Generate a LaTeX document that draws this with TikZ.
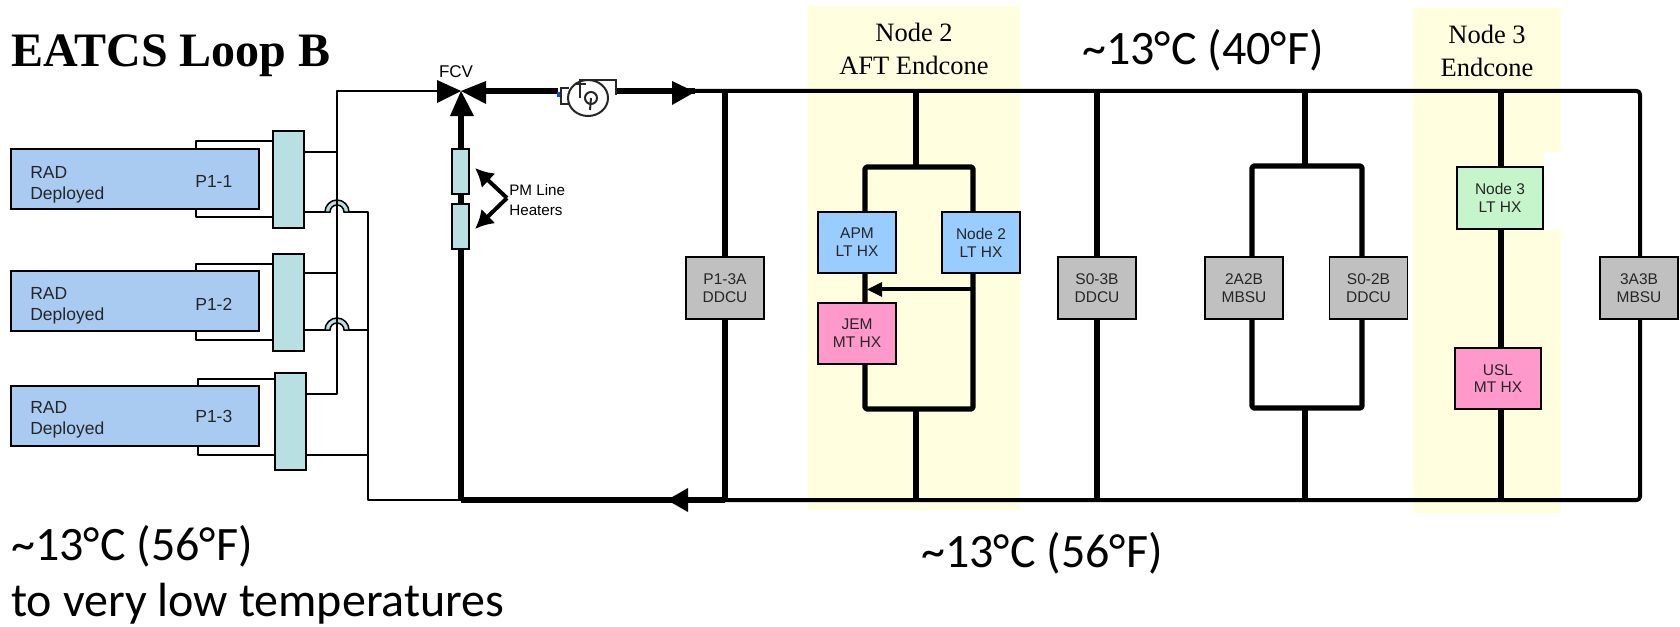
\documentclass[tikz,border=0pt]{standalone}
\usetikzlibrary{arrows.meta}
\usepackage{fontspec}
\setmainfont{Liberation Serif}
\newfontfamily\arialf{Liberation Sans}
\newfontfamily\calf{Carlito}
\def\u{0.6pt}
\newcommand{\fpx}[1]{\fontsize{\fpeval{#1*0.6}pt}{\fpeval{#1*0.6*1.15}pt}\selectfont}
\definecolor{radblue}{HTML}{A9CBF2}
\definecolor{teal1}{HTML}{B8DFE2}
\definecolor{hxblue}{HTML}{99CCFF}
\definecolor{hxpink}{HTML}{FF99CC}
\definecolor{hxgreen}{HTML}{C6F5CC}
\definecolor{ggrey}{HTML}{C0C0C0}
\definecolor{yel}{HTML}{FFFFE0}
\tikzset{
  x=0.6pt,y=-0.6pt,
  bx/.style={draw=black,line width=0.96pt,inner sep=0,outer sep=0,align=center,font=\arialf\fpx{15.5},text=black!85},
  rad/.style={bx,fill=radblue,minimum width=248*\u,minimum height=60*\u},
  mani/.style={bx,fill=teal1,minimum width=31*\u,minimum height=97*\u},
  heater/.style={bx,fill=teal1,minimum width=17*\u,minimum height=45*\u},
  unit/.style={bx,fill=ggrey,minimum width=78*\u,minimum height=62*\u},
  bluehx/.style={bx,fill=hxblue,minimum width=78*\u,minimum height=61*\u},
  pinkhx/.style={bx,fill=hxpink,minimum width=78*\u,minimum height=61*\u},
  greenhx/.style={bx,fill=hxgreen,minimum width=86*\u,minimum height=62*\u},
  thin1/.style={line width=1.1pt,line join=round},
  med/.style={line width=2.4pt,line join=round},
  thick1/.style={line width=3.1pt,line join=round},
  tri/.style={fill=black,draw=none},
  zone/.style={fill=yel,draw=none},
  serifl/.style={font=\fpx{26.5},align=center,inner sep=0},
  callab/.style={font=\calf\fpx{48},anchor=base west,inner sep=0},
  smalll/.style={font=\arialf\fpx{17.5},text=black!85,inner sep=0,align=left},
  pumpline/.style={line width=1.2pt,black!85},
}
\begin{document}
\begin{tikzpicture}
\useasboundingbox (0,0) rectangle (1680,626);
% zones
\fill[zone] (808,6) rectangle (1020,510);
\fill[zone] (1413,8) rectangle (1561,513);
\fill[white] (1544,152) rectangle (1562,230);
% bus coordinates
\coordinate (fcv) at (461,91);
\coordinate (tr) at (1640,91);
\coordinate (br) at (1640,500);
\coordinate (bl) at (461,500);
\coordinate (pin) at (368,500);
% thin radiator plumbing nodes
\node[rad] (r1) at (135,179) {};
\node[rad] (r2) at (135,301) {};
\node[rad] (r3) at (135,416) {};
\node[mani] (m1) at (288.5,179.5) {};
\node[mani] (m2) at (288.5,302.5) {};
\node[mani] (m3) at (290.5,421.5) {};
\node[smalll,anchor=base west] (t1a) at (30,178) {RAD};
\node[smalll,anchor=base west] (t1b) at (30,199) {Deployed};
\node[smalll,anchor=base west] (t2a) at (30,299) {RAD};
\node[smalll,anchor=base west] (t2b) at (30,320) {Deployed};
\node[smalll,anchor=base west] (t3a) at (30,413) {RAD};
\node[smalll,anchor=base west] (t3b) at (30,434) {Deployed};
\node[smalll,anchor=base west] (p1) at (195,187) {P1-1};
\node[smalll,anchor=base west] (p2) at (195,310) {P1-2};
\node[smalll,anchor=base west] (p3) at (195,422) {P1-3};
% loops from radiator to manifold
\draw[thin1] (r1.north -| 196,149) |- (273,141);
\draw[thin1] (196,209) |- (273,217);
\draw[thin1] (196,271) |- (273,264);
\draw[thin1] (196,331) |- (273,340);
\draw[thin1] (198,386) |- (275,379);
\draw[thin1] (198,446) |- (275,455);
% supply line
\coordinate (s3) at (337,394);
\draw[thin1] (m3.east |- s3) -- (s3) -- (337,91) -- (437,91);
\draw[thin1] (304,152) -- (337,152);
\draw[thin1] (304,273) -- (337,273);
% return line
\draw[thin1] (304,212) -- (325,212);
\draw[thin1] (349,212) -- (368,212) -- (pin) -- (bl);
\draw[thin1] (304,330) -- (325,330);
\draw[thin1] (349,330) -- (368,330);
\draw[thin1] (306,455) -- (368,455);
% hops
\foreach \yy in {212,330}{
  \filldraw[fill=teal1,draw=black,line width=0.9pt] (325,\yy) arc[start angle=180,end angle=360,radius=12] -- (344,\yy) arc[start angle=360,end angle=180,radius=7] -- cycle;
}
\draw[thin1] (337,199) -- (337,394);
% main loop
\draw[thick1] (486,91) -- (560,91);
\draw[thick1] (615,91) -- (695,91);
\draw[med,rounded corners=2pt] (695,91) -- (tr) -- (br) -- (461,500);
\draw[thick1] (725,500) -- (bl);
\draw[thick1] (bl) -- (461,116);
% heaters
\node[heater] (h1) at (460.5,171.5) {};
\node[heater] (h2) at (460.5,226.5) {};
% FCV triangles
\fill[tri] (437,80) -- (461,91) -- (437,103) -- cycle;
\fill[tri] (486,81) -- (461,91) -- (486,104) -- cycle;
\fill[tri] (450,116) -- (461,91) -- (474,116) -- cycle;
\node[font=\arialf\fpx{17},inner sep=0,anchor=base] (fcvl) at (456,78) {FCV};
% flow arrows
\fill[tri] (672,81) -- (695,92) -- (672,105) -- cycle;
\fill[tri] (667,500) -- (688,488) -- (688,512) -- cycle;
% pump
\fill[white] (558,76) rectangle (615,118);
\fill[blue!70!cyan] (557,92) rectangle (562,97);
\draw[pumpline] (569,88) -- (561,88) -- (561,104) -- (569,104);
\draw[pumpline] (588,98) ellipse[x radius=20,y radius=18];
\draw[pumpline] (580,98) -- (580,80) -- (616,80) -- (616,95);
\draw[pumpline] (576,84) -- (586,84);
\draw[pumpline] (591,98) circle[radius=6] (591,98) -- (590,110);
% PM heaters label
\node[font=\arialf\fpx{15.2},inner sep=0,align=left,anchor=west] (pm) at (509,200) {PM Line\\[1.2pt]Heaters};
\coordinate (pmv) at (507,198);
\draw[med,-{Latex[length=11pt,width=12pt]}] (pmv) -- (475,168);
\draw[med,-{Latex[length=11pt,width=12pt]}] (pmv) -- (475,229);
% units
\node[unit] (ddcu1) at (725,288) {P1-3A\\DDCU};
\draw[thick1] (ddcu1.north) -- (ddcu1.north |- tr);
\draw[thick1] (ddcu1.south) -- (ddcu1.south |- br);
% Node 2
\coordinate (n2t) at (916,167);
\coordinate (n2b) at (916,409);
\draw[thick1] (916,91) -- (n2t);
\draw[thick1] (n2b) -- (916,500);
\draw[thick1,rounded corners=1pt] (865,409) -- (865,167) -- (973,167) -- (973,409) -- cycle;
\node[bluehx] (apm) at (857,242.5) {APM\\LT HX};
\node[bluehx] (n2lt) at (981,242.5) {Node 2\\LT HX};
\node[pinkhx] (jem) at (857,333.5) {JEM\\MT HX};
\draw[line width=2pt] (973,289) -- (882,289);
\fill[tri] (867,289.5) -- (882,282) -- (882,297) -- cycle;
% S0-3B
\node[unit] (ddcu2) at (1097,288) {S0-3B\\DDCU};
\draw[thick1] (ddcu2.north) -- (ddcu2.north |- tr);
\draw[thick1] (ddcu2.south) -- (ddcu2.south |- br);
% second branch
\draw[thick1] (1305,91) -- (1305,166);
\draw[thick1] (1305,408) -- (1305,500);
\draw[thick1,rounded corners=1pt] (1252,408) -- (1252,166) -- (1362,166) -- (1362,408) -- cycle;
\node[unit] (mbsu1) at (1244,288) {2A2B\\MBSU};
\node[unit] (ddcu3) at (1368.5,288) {S0-2B\\DDCU};
% Node 3
\node[greenhx] (n3) at (1500,198) {Node 3\\LT HX};
\node[pinkhx,minimum width=86*\u] (usl) at (1498,378.5) {USL\\MT HX};
\coordinate (n3x) at (1501,0);
\draw[thick1] (n3x |- tr) -- (n3.north -| n3x);
\draw[thick1] (n3.south -| n3x) -- (usl.north -| n3x);
\draw[thick1] (usl.south -| n3x) -- (n3x |- br);
% 3A3B
\node[unit] (mbsu2) at (1639,288) {3A3B\\MBSU};
% labels
\node[font=\bfseries\fpx{48},inner sep=0,anchor=base west] (title) at (11,67) {EATCS Loop B};
\node[serifl] (zn2) at (914,49) {Node 2\\[1.8pt]AFT Endcone};
\node[serifl] (zn3) at (1487,51) {Node 3\\[1.8pt]Endcone};
\node[callab] (ct) at (1082,65) {\textasciitilde13°C (40°F)};
\node[callab] (cb) at (921,567) {\textasciitilde13°C (56°F)};
\node[callab] (cl1) at (11,560) {\textasciitilde13°C (56°F)};
\node[callab] (cl2) at (11,616) {to very low temperatures};
\end{tikzpicture}
\end{document}
